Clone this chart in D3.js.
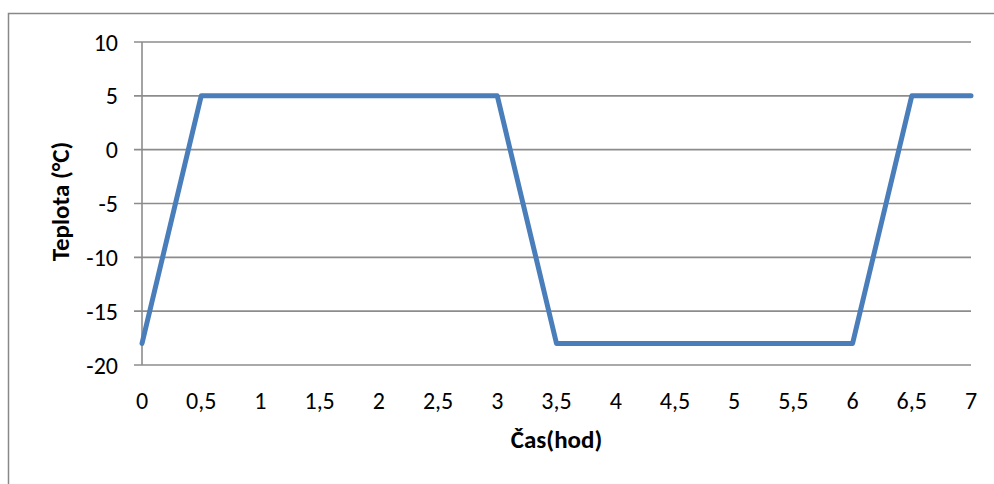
<!DOCTYPE html>
<html>
<head>
<meta charset="utf-8">
<script src="https://cdn.jsdelivr.net/npm/d3@7"></script>
<style>
  html, body { margin: 0; padding: 0; background: #fff; }
  svg { display: block; font-family: Carlito, Calibri, Lato, "Open Sans", sans-serif; }
</style>
</head>
<body>
<svg id="chart" width="994" height="484"></svg>
<script>
// Temperature profile over time
const timeHours = [0, 0.5, 3, 3.5, 6, 6.5, 7];
const temperature = [-18, 5, 5, -18, -18, 5, 5];
const xTickValues = [0, 0.5, 1, 1.5, 2, 2.5, 3, 3.5, 4, 4.5, 5, 5.5, 6, 6.5, 7];
const yTickValues = [-20, -15, -10, -5, 0, 5, 10];
const xTitle = "Čas(hod)";
const yTitle = "Teplota (°C)";

const svg = d3.select("#chart");
const plot = { left: 142, right: 971, top: 42, bottom: 365 };

// outer chart frame (extends past the right and bottom edges)
svg.append("rect")
  .attr("x", 8.5).attr("y", 13.5)
  .attr("width", 1000).attr("height", 500)
  .attr("fill", "none").attr("stroke", "#888").attr("stroke-width", 1.5);

const x = d3.scaleLinear().domain([0, 7]).range([plot.left, plot.right]);
const y = d3.scaleLinear().domain([-20, 10]).range([plot.bottom, plot.top]);

const fmt = d => String(d).replace(".", ",");

// horizontal gridlines
svg.append("g")
  .selectAll("line")
  .data(yTickValues)
  .join("line")
  .attr("x1", plot.left - 8).attr("x2", plot.right)
  .attr("y1", d => y(d)).attr("y2", d => y(d))
  .attr("stroke", "#8c8c8c").attr("stroke-width", 1.6);

// vertical axis line
svg.append("line")
  .attr("x1", plot.left).attr("x2", plot.left)
  .attr("y1", plot.top).attr("y2", plot.bottom)
  .attr("stroke", "#8c8c8c").attr("stroke-width", 1.6);

// y tick labels
svg.append("g")
  .selectAll("text")
  .data(yTickValues)
  .join("text")
  .attr("x", plot.left - 24)
  .attr("y", d => y(d))
  .attr("dy", "0.36em")
  .attr("text-anchor", "end")
  .attr("font-size", 24)
  .attr("fill", "#000")
  .text(fmt);

// x tick labels
svg.append("g")
  .selectAll("text")
  .data(xTickValues)
  .join("text")
  .attr("x", d => x(d))
  .attr("y", 400)
  .attr("dy", "0.36em")
  .attr("text-anchor", "middle")
  .attr("font-size", 24)
  .attr("fill", "#000")
  .text(fmt);

// data line
const line = d3.line().x((d, i) => x(timeHours[i])).y(d => y(d));
svg.append("path")
  .datum(temperature)
  .attr("d", line)
  .attr("fill", "none")
  .attr("stroke", "#4a7ebb")
  .attr("stroke-width", 5)
  .attr("stroke-linejoin", "round")
  .attr("stroke-linecap", "round");

// axis titles
svg.append("text")
  .attr("x", (plot.left + plot.right) / 2)
  .attr("y", 439)
  .attr("dy", "0.36em")
  .attr("text-anchor", "middle")
  .attr("font-size", 25)
  .attr("font-weight", "bold")
  .text(xTitle);

svg.append("text")
  .attr("transform", `translate(60,${(plot.top + plot.bottom) / 2 - 2}) rotate(-90)`)
  .attr("dy", "0.36em")
  .attr("text-anchor", "middle")
  .attr("font-size", 25)
  .attr("font-weight", "bold")
  .text(yTitle);
</script>
</body>
</html>
